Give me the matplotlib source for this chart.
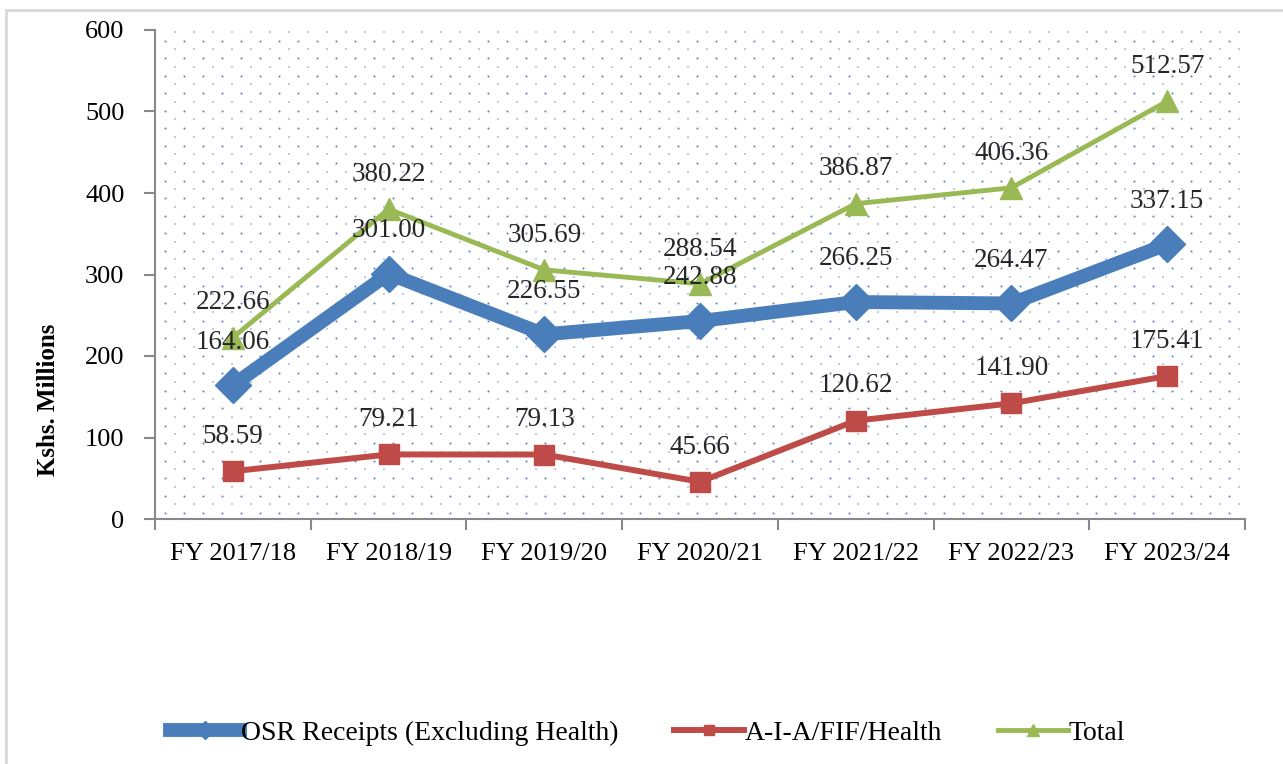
import numpy as np
import matplotlib
matplotlib.use("Agg")
import matplotlib.pyplot as plt
from matplotlib.lines import Line2D

plt.rcParams['font.family'] = ['Liberation Serif', 'DejaVu Serif']

# 数据
years = ["FY 2017/18", "FY 2018/19", "FY 2019/20", "FY 2020/21",
         "FY 2021/22", "FY 2022/23", "FY 2023/24"]
osr = [164.06, 301.00, 226.55, 242.88, 266.25, 264.47, 337.15]
aia = [58.59, 79.21, 79.13, 45.66, 120.62, 141.90, 175.41]
total = [222.66, 380.22, 305.69, 288.54, 386.87, 406.36, 512.57]
yticks = [0, 100, 200, 300, 400, 500, 600]

blue = '#4A7EBB'
red = '#BE4B48'
green = '#98B954'

fig = plt.figure(figsize=(12.83, 7.64), dpi=100)
ax = fig.add_axes([155 / 1283, 1 - 519 / 764, 1090 / 1283, 489 / 764])

# 外框
fig.add_artist(Line2D([6 / 1283, 1], [1 - 10 / 764, 1 - 10 / 764], color='#d9d9d9', lw=2,
                      transform=fig.transFigure))
fig.add_artist(Line2D([6 / 1283, 6 / 1283], [0, 1 - 10 / 764], color='#d9d9d9', lw=2,
                      transform=fig.transFigure))

# 点状背景
w_px, h_px = 1090, 489
gx = np.arange(10, w_px, 19) / w_px
gy = np.arange(6, h_px, 17.5) / h_px
X, Y = np.meshgrid(gx, gy)
ax.scatter(X.ravel(), Y.ravel(), s=2.2, color='#5f85bd', transform=ax.transAxes,
           zorder=0, linewidths=0)
X2, Y2 = np.meshgrid(gx + 9.5 / w_px, gy + 8.75 / h_px)
ax.scatter(X2.ravel(), Y2.ravel(), s=1.3, color='#c3ccd9', marker='s', transform=ax.transAxes,
           zorder=0, linewidths=0)

x = np.arange(len(years))
ax.plot(x, osr, color=blue, lw=10, marker='D', ms=18, zorder=3,
        label='OSR Receipts (Excluding Health)')
ax.plot(x, aia, color=red, lw=4.3, marker='s', ms=15, zorder=3,
        label='A-I-A/FIF/Health')
ax.plot(x, total, color=green, lw=3.5, marker='^', ms=16, zorder=3,
        label='Total')

# 数据标签
for vals, off in [(osr, 31), (aia, 25), (total, 25)]:
    for xi, v in zip(x, vals):
        ax.annotate(f"{v:.2f}", (xi, v), xytext=(0, off), textcoords='offset points',
                    ha='center', va='center', fontsize=19.5, color='#262626', zorder=4)

ax.set_xlim(-0.5, len(years) - 0.5)
ax.set_ylim(0, 600)
ax.set_yticks(yticks)
ax.set_xticks(x)
ax.set_xticklabels(years)
ax.set_xticks(np.arange(len(years) + 1) - 0.5, minor=True)
ax.tick_params(axis='x', which='major', length=0, pad=17, labelsize=19)
ax.tick_params(axis='x', which='minor', length=8, color='#898989', width=1.5)
ax.tick_params(axis='y', length=8, color='#898989', width=1.5, pad=14, labelsize=19)

for s in ['top', 'right']:
    ax.spines[s].set_visible(False)
for s in ['left', 'bottom']:
    ax.spines[s].set_color('#898989')
    ax.spines[s].set_linewidth(1.5)
ax.patch.set_facecolor('white')

ax.set_ylabel("Kshs. Millions", fontsize=18, fontweight='bold')
ax.yaxis.set_label_coords(-0.087, 0.243)

fig.legend(loc='center', bbox_to_anchor=(0.505, 1 - 733 / 764), ncol=3, frameon=False,
           fontsize=20, handlelength=2.5, handletextpad=0.05, columnspacing=2.0,
           markerscale=0.5)

plt.savefig("out.png", dpi=100)
